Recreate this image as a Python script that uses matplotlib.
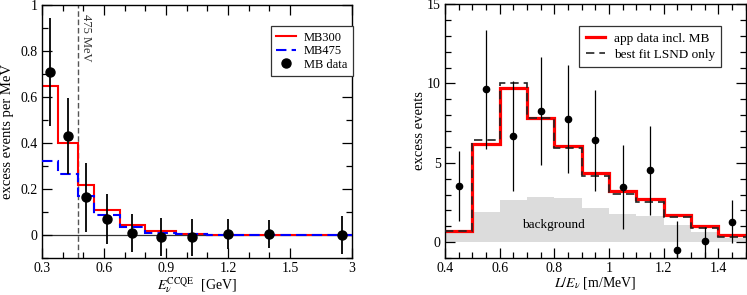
import numpy as np
import matplotlib
matplotlib.use('Agg')
import matplotlib.pyplot as plt
from matplotlib.ticker import MultipleLocator, FixedLocator, FormatStrFormatter

plt.rcParams['font.family'] = ['Liberation Serif', 'DejaVu Serif']
plt.rcParams['mathtext.fontset'] = 'stix'
plt.rcParams['font.size'] = 10

# ---- left panel: MiniBooNE excess vs reconstructed energy (GeV)
e_edges = [0.3, 0.375, 0.475, 0.55, 0.675, 0.8, 0.95, 1.1, 1.3, 1.5, 3.0]
mb300 = [0.65, 0.40, 0.219, 0.11, 0.043, 0.017, 0.006, 0.002, 0.0, 0.0]
mb475 = [0.32, 0.264, 0.169, 0.089, 0.033, 0.010, 0.004, 0.001, 0.0, 0.0]
mb_x = [0.3375, 0.425, 0.5125, 0.6125, 0.7375, 0.875, 1.025, 1.2, 1.4, 2.75]
mb_y = [0.71, 0.43, 0.164, 0.07, 0.01, -0.01, -0.01, 0.004, 0.004, 0.0]
mb_err = [0.235, 0.165, 0.15, 0.11, 0.083, 0.083, 0.08, 0.065, 0.06, 0.083]
e_ticks = [0.3, 0.6, 0.9, 1.2, 1.5, 3.0]

# ---- right panel: excess events vs L/E
le_edges = [0.4, 0.5, 0.6, 0.7, 0.8, 0.9, 1.0, 1.1, 1.2, 1.3, 1.4, 1.5]
app_fit = [0.71, 6.2, 9.7, 7.83, 6.04, 4.33, 3.23, 2.69, 1.71, 1.04, 0.42]
lsnd_fit = [0.71, 6.45, 10.0, 7.85, 5.92, 4.15, 3.06, 2.54, 1.60, 0.92, 0.33]
background = [0.68, 1.87, 2.67, 2.85, 2.75, 2.12, 1.77, 1.67, 1.06, 0.62, 0.25]
le_x = [0.45, 0.55, 0.65, 0.75, 0.85, 0.95, 1.05, 1.15, 1.25, 1.35, 1.45]
le_y = [3.54, 9.62, 6.7, 8.23, 7.78, 6.41, 3.48, 4.52, -0.48, 0.08, 1.29]
le_err_lo = [2.2, 3.75, 3.45, 3.4, 3.4, 3.2, 2.65, 2.8, 1.8, 1.2, 1.35]
le_err_hi = [2.2, 3.75, 3.45, 3.4, 3.4, 3.2, 2.65, 2.8, 1.8, 0.9, 1.35]


def squash(x):
    # last bin (1.5-3 GeV) is drawn compressed
    x = np.asarray(x, dtype=float)
    return np.where(x <= 1.5, x, 1.5 + (x - 1.5) * 0.2)


def unsquash(x):
    x = np.asarray(x, dtype=float)
    return np.where(x <= 1.5, x, 1.5 + (x - 1.5) / 0.2)


def style_ticks(ax):
    ax.tick_params(which='both', direction='in', top=True, right=True)
    ax.tick_params(which='major', length=7, width=0.9, labelsize=10, pad=3)
    ax.tick_params(which='minor', length=4, width=0.9)
    for s in ax.spines.values():
        s.set_linewidth(1.0)


fig = plt.figure(figsize=(7.47, 2.95), dpi=100)
ax1 = fig.add_axes([42 / 747, 37 / 295, 310 / 747, 253 / 295])
ax2 = fig.add_axes([445 / 747, 37 / 295, 300.5 / 747, 254 / 295])

# left
ax1.set_xscale('function', functions=(squash, unsquash))
ax1.axhline(0, color='#333333', lw=0.9, zorder=1)
ax1.axvline(0.475, color='#555555', lw=1.0, ls=(0, (4, 2)), zorder=1)
ax1.text(0.482, 0.962, '475 MeV', rotation=270, ha='left', va='top', fontsize=9,
         color='#333333')
ax1.stairs(mb300, e_edges, baseline=None, color='red', lw=1.5, label='MB300', zorder=2)
ax1.stairs(mb475, e_edges, baseline=None, color='blue', lw=1.5, ls=(0, (5, 2.5)),
           label='MB475', zorder=3)
ax1.errorbar(mb_x, mb_y, yerr=mb_err, fmt='none', ecolor='black', elinewidth=1.3,
             capsize=0, zorder=4)
ax1.plot(mb_x, mb_y, 'o', color='black', ms=6.5, ls='none', label='MB data', zorder=5)
ax1.set_xlim(0.3, 3.0)
ax1.set_ylim(-0.1, 1.0)
ax1.xaxis.set_major_locator(FixedLocator(e_ticks))
ax1.xaxis.set_minor_locator(FixedLocator(np.arange(0.4, 1.45, 0.1)))
ax1.xaxis.set_major_formatter(FormatStrFormatter('%g'))
ax1.xaxis.set_minor_formatter(plt.NullFormatter())
ax1.yaxis.set_major_locator(MultipleLocator(0.2))
ax1.yaxis.set_minor_locator(MultipleLocator(0.1))
ax1.yaxis.set_major_formatter(FormatStrFormatter('%g'))
ax1.set_xlabel(r'$E_\nu^{\rm CCQE}$  [GeV]', fontsize=10, labelpad=0)
ax1.set_ylabel('excess events per MeV', fontsize=10.5, labelpad=5)
style_ticks(ax1)
leg1 = ax1.legend(loc='upper right', bbox_to_anchor=(1.003, 0.917), borderaxespad=0,
                  fancybox=False, edgecolor='#333333', framealpha=1, fontsize=9,
                  handlelength=1.6, borderpad=0.45, labelspacing=0.12,
                  handletextpad=0.6)
leg1.get_frame().set_linewidth(0.9)

# right
ax2.stairs(background, le_edges, fill=True, color='#dcdcdc', lw=0, zorder=1)
ax2.text(0.795, 1.1, 'background', ha='center', va='center', fontsize=9.5)
ax2.stairs(app_fit, le_edges, baseline=None, color='red', lw=2.3,
           label='app data incl. MB', zorder=2)
ax2.stairs(lsnd_fit, le_edges, baseline=None, color='#222222', lw=1.2, ls=(0, (5, 3)),
           label='best fit LSND only', zorder=3)
ax2.errorbar(le_x, le_y, yerr=[le_err_lo, le_err_hi], fmt='o', color='black', ms=4.5,
             elinewidth=0.9, capsize=0, zorder=4)
ax2.set_xlim(0.4, 1.5)
ax2.set_ylim(-1, 15)
ax2.xaxis.set_major_locator(MultipleLocator(0.2))
ax2.xaxis.set_minor_locator(MultipleLocator(0.05))
ax2.xaxis.set_major_formatter(FormatStrFormatter('%g'))
ax2.yaxis.set_major_locator(MultipleLocator(5))
ax2.yaxis.set_minor_locator(MultipleLocator(1))
ax2.set_xlabel(r'$L/E_\nu$ [m/MeV]', fontsize=10, labelpad=0)
ax2.set_ylabel('excess events', fontsize=10.5, labelpad=1)
style_ticks(ax2)
leg2 = ax2.legend(loc='upper right', bbox_to_anchor=(0.92, 0.914), borderaxespad=0,
                  fancybox=False, edgecolor='#333333', framealpha=1, fontsize=9.5,
                  handlelength=1.4, borderpad=0.5, labelspacing=0.3, handletextpad=0.7)
leg2.get_frame().set_linewidth(0.9)

fig.savefig('out.png', dpi=100)
